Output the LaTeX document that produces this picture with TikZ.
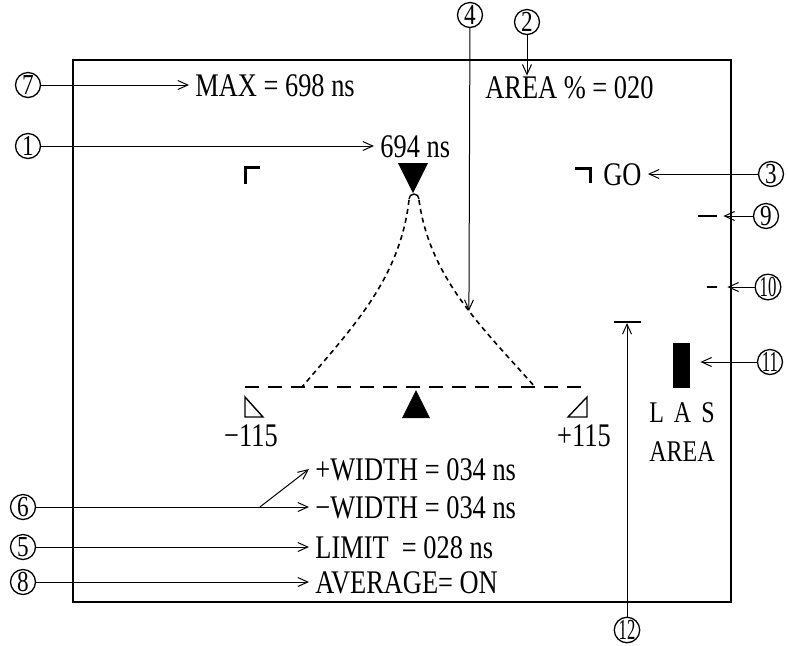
\documentclass[tikz,border=0pt]{standalone}
\usepackage{fontspec}
\setmainfont{Liberation Serif}[FakeStretch=0.8]
\usetikzlibrary{arrows.meta}
\newcommand{\two}[1]{\scalebox{0.72}[1]{#1}}

\begin{document}
\begin{tikzpicture}[x=0.5pt,y=-0.5pt,
num/.style={circle,draw,line width=0.65pt,minimum size=12.5pt,inner sep=0pt,font=\fontsize{14.5}{14}\selectfont},
lbl/.style={anchor=west,inner xsep=3pt,inner ysep=0pt,text height=11pt,text depth=0pt,font=\fontsize{16.5}{18}\selectfont},
lead/.style={-{Straight Barb[length=5pt,width=4.5pt]},line width=0.5pt},
curve/.style={dash pattern=on 2.5pt off 2pt,line width=0.8pt},
baseline dash/.style={dash pattern=on 7pt off 4.5pt,line width=0.8pt},
bar/.style={fill=black,inner sep=0pt,minimum height=1.4pt}]
\useasboundingbox (0,0) rectangle (788,645);
% screen
\draw[line width=0.75pt] (73,60) rectangle (731,602);

% callouts
\node[num] (c7) at (28,85) {7};
\node[num] (c1) at (28,146) {1};
\node[num] (c4) at (470,15) {4};
\node[num] (c2) at (527,22) {2};
\node[num] (c3) at (771,174) {3};
\node[num] (c9) at (766,216) {9};
\node[num] (c10) at (768,287) {\two{10}};
\node[num] (c11) at (770,362) {\two{11}};
\node[num] (c12) at (627,630) {\two{12}};
\node[num] (c6) at (23,507) {6};
\node[num] (c5) at (23,547) {5};
\node[num] (c8) at (23,582) {8};

% readouts
\node[lbl] (tmax) at (189,85) {MAX = 698 ns};
\node[lbl] (tarea) at (479,87) {AREA \% = 020};
\node[lbl] (tpk) at (374,146) {694 ns};
\node[lbl] (tgo) at (597,174) {GO};
\node[lbl,anchor=center] (tneg) at (251,435) {−115};
\node[lbl,anchor=center] (tpos) at (584,435) {+115};
\node[lbl] (tpw) at (309,469) {+WIDTH = 034 ns};
\node[lbl] (tmw) at (309,507) {−WIDTH = 034 ns};
\node[lbl] (tlim) at (309,547) {LIMIT\ \ = 028 ns};
\node[lbl] (tavg) at (309,582) {AVERAGE= ON};
\node[lbl,anchor=center,font=\fontsize{15}{16}\selectfont] (tlas) at (682,411) {L\hspace{5pt}A\hspace{5pt}S};
\node[lbl,anchor=center,font=\fontsize{15}{16}\selectfont] (tlasarea) at (682,450) {AREA};

% level marks
\node[bar,minimum width=8.5pt,minimum height=22.5pt] (lasbar) at (681.5,365.5) {};
\node[bar,minimum width=9.5pt] (m9) at (707.5,216) {};
\node[bar,minimum width=5pt] (m10) at (712,287) {};
\node[bar,minimum width=13.5pt,minimum height=0.6pt] (m12) at (627,322) {};

% gate corners
\draw[line width=1.5pt] (245,184) -- (245,167) -- (260,167);
\draw[line width=1.5pt] (575,168) -- (590,168) -- (590,183);

% waveform
\fill (398,163) -- (428,163) -- (413,193) -- cycle;
\draw[line width=0.7pt] (409,199) arc[start angle=180,end angle=360,radius=5];
\draw[curve] (409,200) .. controls (400,280) and (350,330) .. (302,387);
\draw[curve] (419,200) .. controls (430,280) and (485,330) .. (535,387)
  coordinate[pos=0.55] (p4);
\draw[baseline dash] (245,387) -- (588,387);
\fill (402,418) -- (430,418) -- (416,390) -- cycle;
\draw[line width=0.7pt] (245,397) -- (245,417) -- (263,417) -- cycle;
\draw[line width=0.7pt] (587,397) -- (587,417) -- (568,417) -- cycle;

% leaders
\draw[lead] (c7) -- (c7 -| tmax.west);
\draw[lead] (c1) -- (c1 -| tpk.west);
\draw[lead] (c2) -- (c2 |- tarea.north);
\draw[lead] (c4) -- (p4);
\draw[lead] (c3) -- (c3 -| tgo.east);
\draw[lead,shorten >=3pt] (c9) -- (c9 -| m9.east);
\draw[lead,shorten >=5pt] (c10) -- (c10 -| m10.east);
\draw[lead,shorten >=5pt] (c11) -- (c11 -| lasbar.east);
\draw[lead] (c12) -- (c12 |- m12.south);
\draw[lead] (c6) -- (c6 -| tmw.west) coordinate[pos=0.82] (b6);
\draw[lead] (b6) -- (tpw.west);
\draw[lead] (c5) -- (c5 -| tlim.west);
\draw[lead] (c8) -- (c8 -| tavg.west);
\end{tikzpicture}
\end{document}
